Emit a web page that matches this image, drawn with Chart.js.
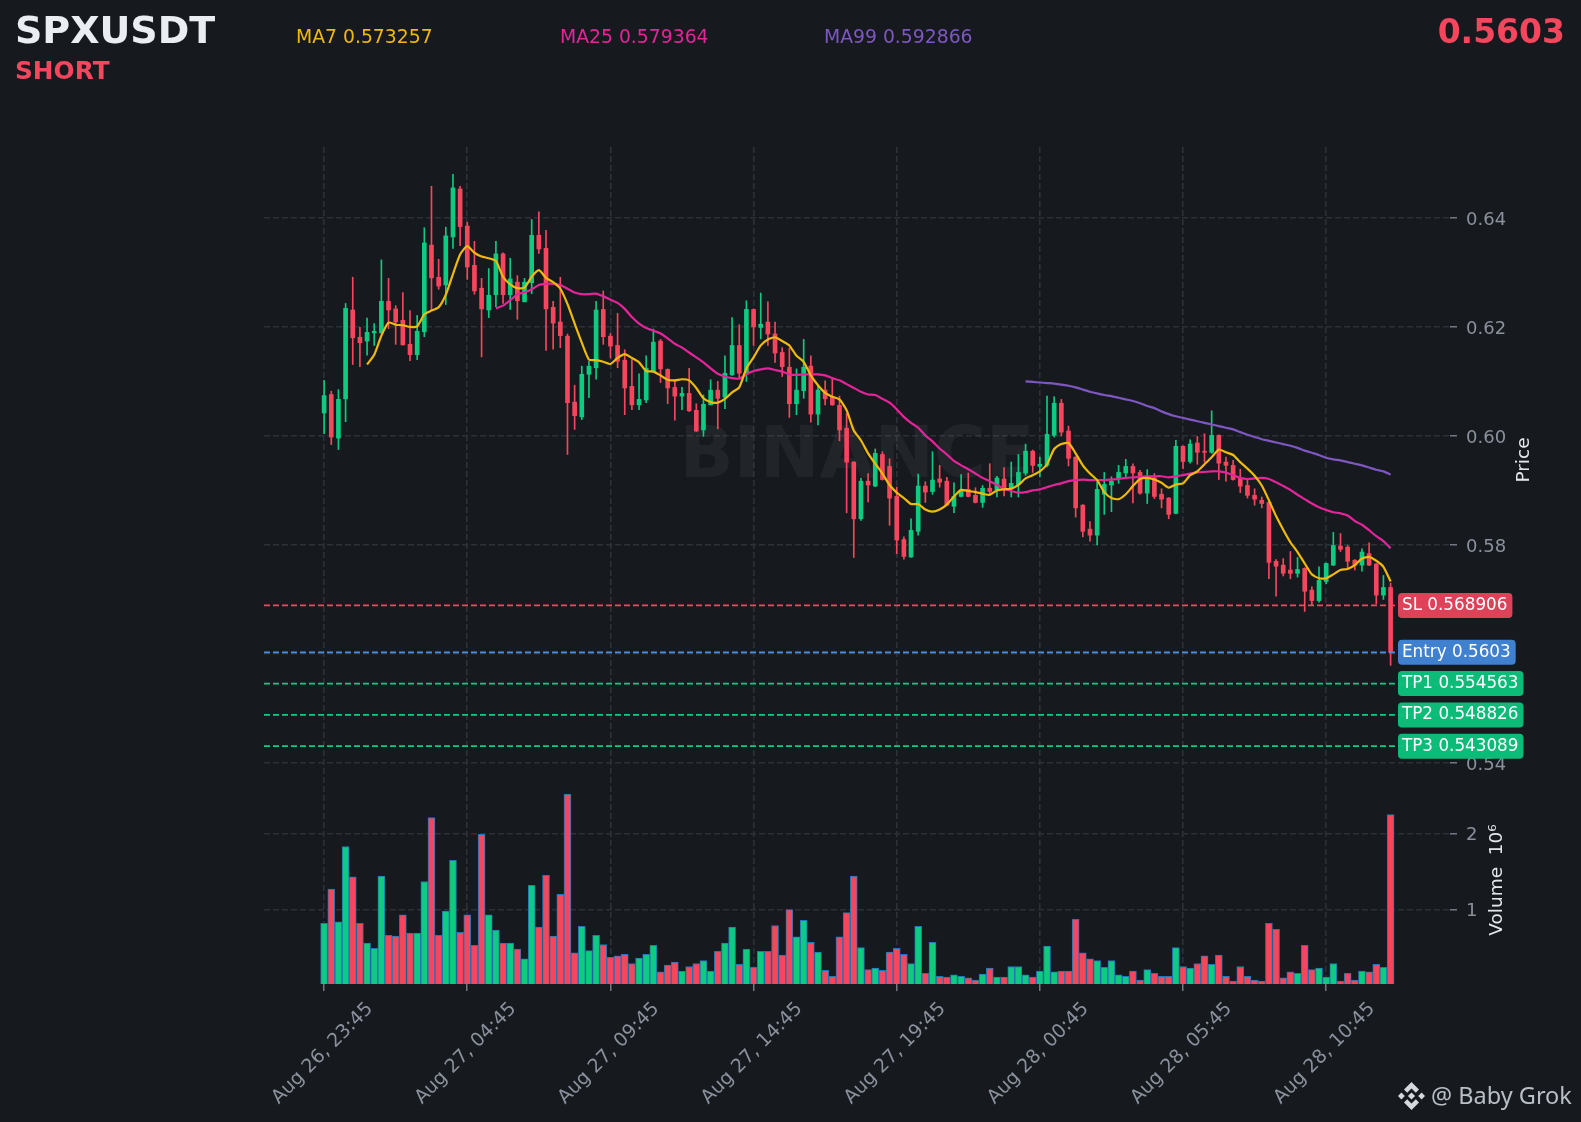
<!DOCTYPE html>
<html>
<head>
<meta charset="utf-8">
<title>SPXUSDT</title>
<script src="https://cdn.jsdelivr.net/npm/chart.js@4"></script>
<style>
  html, body { margin: 0; padding: 0; background: #161a1f; }
  #wrap { position: relative; width: 1581px; height: 1122px; overflow: hidden; font-family: "DejaVu Sans", sans-serif; }
  canvas { position: absolute; left: 0; top: 0; }
  .txt { position: absolute; white-space: nowrap; line-height: 1; }
  #logo { position: absolute; left: 1398px; top: 1082px; }
</style>
</head>
<body>
<div id="wrap">
  <canvas id="grafico" width="1581" height="1122"></canvas>
  <div class="txt" style="left:15px;top:11px;font-size:38px;font-weight:bold;color:#eaedf1">SPXUSDT</div>
  <div class="txt" style="left:15px;top:59px;font-size:24.8px;font-weight:bold;color:#f6465d">SHORT</div>
  <div class="txt" style="left:296px;top:28px;font-size:18.8px;color:#f0b90b">MA7 0.573257</div>
  <div class="txt" style="left:560px;top:28px;font-size:18.8px;color:#e6249a">MA25 0.579364</div>
  <div class="txt" style="left:824px;top:28px;font-size:18.8px;color:#7e57c2">MA99 0.592866</div>
  <div class="txt" style="right:16px;top:15px;font-size:33px;font-weight:bold;color:#f6465d">0.5603</div>
  <svg id="logo" width="27" height="28" viewBox="0 0 27 28">
    <g fill="#d5d8dd">
      <path d="M13.5 0 L21 7.5 L17.8 10.7 L13.5 6.4 L9.2 10.7 L6 7.5 Z"/>
      <path d="M13.5 28 L21 20.5 L17.8 17.3 L13.5 21.6 L9.2 17.3 L6 20.5 Z"/>
      <path d="M3.4 10.6 L6.8 14 L3.4 17.4 L0 14 Z"/>
      <path d="M23.6 10.6 L27 14 L23.6 17.4 L20.2 14 Z"/>
      <path d="M13.5 10.4 L17.1 14 L13.5 17.6 L9.9 14 Z"/>
    </g>
  </svg>
  <div class="txt" style="left:1431px;top:1084px;font-family:'Noto Sans',sans-serif;font-size:23.5px;color:#b9bec7">@ Baby Grok</div>
</div>
<script>
// Candles, 15 minutes each
const opens = [.6042,.6076,.5996,.6068,.6231,.6181,.6174,.6189,.6189,.6247,.6233,.6212,.6168,.6149,.6191,.6350,.6291,.6277,.6365,.6453,
  .6385,.6313,.6271,.6231,.6259,.6334,.6259,.6282,.6246,.6281,.6368,.6344,.6236,.6209,.6183,.6062,.6035,.6113,.6125,.6232,
  .6183,.6166,.6139,.6091,.6057,.6066,.6118,.6174,.6122,.6089,.6073,.6078,.6047,.6011,.6057,.6084,.6071,.6112,.6166,.6115,
  .6232,.6199,.6209,.6187,.6153,.6126,.6059,.6083,.6128,.6040,.6084,.6071,.6056,.6014,.5952,.5848,.5917,.5908,.5966,.5944,
  .5889,.5810,.5778,.5825,.5908,.5898,.5921,.5917,.5871,.5889,.5902,.5891,.5878,.5904,.5900,.5921,.5903,.5911,.5932,.5972,
  .5944,.5946,.6001,.6060,.6009,.5961,.5873,.5829,.5818,.5893,.5910,.5922,.5932,.5944,.5933,.5895,.5923,.5893,.5886,.5858,
  .5981,.5953,.5987,.5972,.5970,.6001,.5952,.5946,.5922,.5909,.5891,.5882,.5878,.5770,.5763,.5754,.5748,.5757,.5717,.5698,
  .5733,.5763,.5798,.5796,.5772,.5763,.5784,.5765,.5708,.5722];
const highs = [.6102,.6082,.6085,.6243,.6291,.6199,.6216,.6206,.6323,.6289,.6239,.6263,.6230,.6221,.6382,.6458,.6324,.6383,.6480,.6458,
  .6392,.6357,.6289,.6307,.6357,.6336,.6326,.6294,.6289,.6397,.6411,.6377,.6247,.6291,.6187,.6093,.6128,.6137,.6247,.6266,
  .6188,.6225,.6158,.6140,.6114,.6147,.6196,.6177,.6123,.6100,.6089,.6124,.6059,.6075,.6103,.6100,.6147,.6217,.6204,.6248,
  .6233,.6262,.6246,.6209,.6162,.6161,.6123,.6177,.6147,.6092,.6101,.6105,.6073,.6041,.5953,.5922,.5931,.5976,.5971,.5958,
  .5906,.5815,.5848,.5930,.5916,.5971,.5946,.5924,.5914,.5929,.5932,.5905,.5909,.5949,.5926,.5942,.5952,.5966,.5985,.5974,
  .5961,.6073,.6072,.6067,.6018,.5962,.5874,.5843,.5916,.5933,.5925,.5946,.5957,.5949,.5937,.5938,.5931,.5903,.5887,.5992,
  .5982,.5993,.5999,.6004,.6046,.6002,.5961,.5955,.5939,.5920,.5903,.5888,.5879,.5773,.5775,.5788,.5777,.5758,.5723,.5760,
  .5767,.5823,.5821,.5799,.5773,.5793,.5804,.5766,.5744,.5730];
const lows = [.6004,.5984,.5975,.6026,.6131,.6127,.6148,.6166,.6188,.6197,.6168,.6167,.6138,.6140,.6182,.6231,.6269,.6241,.6344,.6349,
  .6287,.6260,.6145,.6217,.6237,.6243,.6232,.6214,.6246,.6261,.6335,.6157,.6159,.6162,.5966,.6012,.6030,.6070,.6104,.6168,
  .6143,.6125,.6039,.6048,.6048,.6061,.6117,.6098,.6059,.6029,.6048,.6045,.6008,.5999,.6057,.6013,.6050,.6111,.6105,.6100,
  .6166,.6178,.6166,.6135,.6109,.6034,.6039,.6069,.6025,.6020,.6057,.6056,.5991,.5859,.5777,.5845,.5879,.5907,.5919,.5836,
  .5784,.5774,.5777,.5818,.5878,.5893,.5906,.5872,.5859,.5888,.5888,.5877,.5869,.5891,.5888,.5890,.5888,.5888,.5928,.5933,
  .5925,.5943,.5998,.6000,.5945,.5851,.5815,.5807,.5800,.5856,.5861,.5913,.5924,.5877,.5893,.5876,.5885,.5868,.5848,.5857,
  .5940,.5950,.5948,.5952,.5968,.5920,.5917,.5919,.5896,.5886,.5873,.5868,.5738,.5706,.5743,.5738,.5741,.5678,.5690,.5695,
  .5729,.5762,.5788,.5758,.5754,.5752,.5762,.5692,.5700,.5579];
const closes = [.6074,.5998,.6067,.6234,.6180,.6171,.6190,.6192,.6247,.6231,.6209,.6167,.6149,.6192,.6354,.6290,.6275,.6367,.6455,.6384,
  .6310,.6266,.6233,.6258,.6334,.6259,.6288,.6248,.6282,.6368,.6343,.6233,.6207,.6184,.6061,.6037,.6113,.6128,.6231,.6182,
  .6165,.6137,.6088,.6057,.6067,.6124,.6172,.6123,.6088,.6073,.6078,.6046,.6009,.6058,.6084,.6069,.6115,.6166,.6115,.6232,
  .6200,.6205,.6187,.6152,.6127,.6059,.6084,.6126,.6040,.6084,.6068,.6057,.6011,.5952,.5848,.5917,.5910,.5968,.5920,.5886,
  .5809,.5779,.5827,.5908,.5897,.5919,.5915,.5873,.5889,.5899,.5889,.5878,.5904,.5898,.5923,.5904,.5913,.5933,.5972,.5946,
  .5948,.6003,.6060,.6007,.5959,.5868,.5825,.5818,.5902,.5911,.5917,.5933,.5944,.5932,.5895,.5923,.5889,.5884,.5856,.5981,
  .5953,.5985,.5970,.5970,.6001,.5950,.5946,.5920,.5908,.5891,.5884,.5876,.5768,.5761,.5748,.5748,.5755,.5715,.5698,.5735,
  .5766,.5799,.5792,.5770,.5763,.5787,.5763,.5708,.5722,.5603];
const volumes = [.82,1.27,.84,1.83,1.43,.82,.56,.49,1.44,.66,.65,.93,.69,.69,1.37,2.21,.66,.98,1.65,.70,
  .93,.53,1.99,.93,.73,.56,.56,.48,.35,1.32,.77,1.45,.65,1.20,2.52,.43,.78,.46,.66,.54,
  .37,.39,.41,.29,.36,.41,.53,.18,.27,.31,.19,.25,.29,.33,.19,.45,.56,.77,.28,.48,
  .24,.45,.45,.79,.40,1.00,.64,.86,.57,.44,.20,.12,.64,.96,1.44,.50,.21,.23,.20,.44,
  .49,.41,.29,.78,.16,.57,.12,.11,.14,.12,.10,.07,.15,.23,.11,.11,.25,.25,.14,.11,
  .19,.52,.18,.19,.19,.87,.43,.35,.33,.24,.33,.14,.12,.19,.07,.21,.16,.12,.12,.50,
  .25,.23,.29,.39,.28,.40,.12,.06,.25,.12,.07,.06,.82,.74,.10,.18,.16,.53,.21,.23,
  .11,.29,.06,.16,.07,.19,.18,.28,.24,2.25];

// Moving averages, first value belongs to candle 6, 24 and 98
const ma7 = [.6131,.6149,.6184,.6208,.6204,.6203,.6200,.6201,.6223,.6230,.6236,.6259,.6297,.6333,.6348,.6336,.6329,.6326,.6321,.6292,
  .6278,.6271,.6272,.6292,.6304,.6290,.6282,.6270,.6242,.6206,.6171,.6140,.6139,.6136,.6132,.6143,.6150,.6143,.6135,.6119,
  .6118,.6111,.6103,.6102,.6104,.6102,.6088,.6069,.6062,.6061,.6068,.6080,.6089,.6124,.6144,.6166,.6177,.6181,.6174,.6166,
  .6147,.6136,.6111,.6093,.6079,.6072,.6067,.6047,.6010,.5992,.5968,.5949,.5931,.5910,.5896,.5886,.5875,.5875,.5865,.5861,
  .5865,.5874,.5889,.5901,.5899,.5897,.5894,.5892,.5900,.5902,.5903,.5910,.5922,.5928,.5935,.5948,.5976,.5985,.5987,.5968,
  .5946,.5931,.5919,.5897,.5886,.5884,.5893,.5908,.5921,.5923,.5920,.5914,.5905,.5911,.5913,.5928,.5935,.5948,.5961,.5975,
  .5970,.5965,.5952,.5940,.5927,.5909,.5882,.5853,.5828,.5805,.5787,.5766,.5746,.5739,.5739,.5746,.5754,.5756,.5763,.5775,
  .5778,.5771,.5760,.5733];
const ma25 = [.6234,.6239,.6249,.6260,.6263,.6269,.6277,.6279,.6279,.6277,.6270,.6263,.6260,.6260,.6261,.6256,.6250,.6244,.6233,.6218,
  .6206,.6198,.6193,.6188,.6179,.6169,.6162,.6153,.6144,.6135,.6124,.6114,.6109,.6106,.6105,.6113,.6119,.6122,.6124,.6121,
  .6118,.6113,.6112,.6113,.6113,.6113,.6111,.6106,.6102,.6095,.6088,.6081,.6076,.6075,.6068,.6061,.6049,.6035,.6024,.6015,
  .6001,.5990,.5977,.5966,.5954,.5946,.5939,.5931,.5923,.5917,.5910,.5903,.5899,.5896,.5897,.5900,.5902,.5906,.5910,.5913,
  .5917,.5919,.5920,.5919,.5919,.5919,.5920,.5921,.5923,.5924,.5925,.5926,.5926,.5926,.5924,.5926,.5928,.5931,.5933,.5934,
  .5935,.5935,.5933,.5928,.5923,.5921,.5922,.5923,.5921,.5915,.5908,.5901,.5892,.5884,.5876,.5869,.5864,.5860,.5858,.5854,
  .5844,.5837,.5827,.5816,.5807,.5794];
const ma99 = [.6100,.6099,.6098,.6097,.6096,.6094,.6092,.6089,.6085,.6081,.6078,.6075,.6073,.6070,.6067,.6064,.6060,.6055,.6051,.6045,
  .6040,.6036,.6033,.6030,.6027,.6024,.6021,.6018,.6015,.6012,.6007,.6002,.5998,.5994,.5991,.5988,.5985,.5982,.5978,.5973,
  .5969,.5965,.5960,.5957,.5955,.5952,.5949,.5946,.5942,.5938,.5935,.5929];

// Axis ticks
const tickLabels = ['Aug 26, 23:45','Aug 27, 04:45','Aug 27, 09:45','Aug 27, 14:45','Aug 27, 19:45','Aug 28, 00:45','Aug 28, 05:45','Aug 28, 10:45'];
const tickStep = 20;
const priceTicks = [.54,.56,.58,.60,.62,.64];
const volumeTicks = [1, 2];

// Trade levels
const levelNames = ['SL','Entry','TP1','TP2','TP3'];
const levelValues = [0.568906,0.5603,0.554563,0.548826,0.543089];
const levelTexts = ['0.568906','0.5603','0.554563','0.548826','0.543089'];
const levelLines = ['#f6465d','#4a8fe0','#0ecb81','#0ecb81','#0ecb81'];
const levelTags = ['rgba(230,68,92,.96)','rgba(66,132,214,.96)','rgba(14,194,124,.96)','rgba(14,194,124,.96)','rgba(14,194,124,.96)'];

const verde = '#0ecb81';
const vermelho = '#f6465d';
const xMin = -8.4, xMax = 157.3;
const corGrade = '#2c3038';
const corTick = '#8b919c';

const idx = opens.map((_, i) => i);
const corCandle = idx.map(i => closes[i] >= opens[i] ? verde : vermelho);

const overlay = {
  id: 'overlay',
  beforeDatasetsDraw(chart) {
    const { ctx } = chart;
    ctx.save();
    ctx.font = 'bold 71px "DejaVu Sans"';
    ctx.fillStyle = 'rgba(255,255,255,.05)';
    ctx.textAlign = 'center';
    ctx.textBaseline = 'middle';
    ctx.fillText('BINANCE', 857, 459);
    ctx.restore();
  },
  afterDatasetsDraw(chart) {
    const { ctx, scales } = chart;
    ctx.save();
    // price tags on the right
    ctx.font = '16.8px "DejaVu Sans"';
    ctx.textBaseline = 'middle';
    levelNames.forEach((nome, i) => {
      const y = scales.y.getPixelForValue(levelValues[i]);
      const texto = `${nome} ${levelTexts[i]}`;
      const w = ctx.measureText(texto).width + 9;
      ctx.fillStyle = levelTags[i];
      ctx.beginPath();
      ctx.roundRect(1398, y - 12.5, w, 25, 4);
      ctx.fill();
      ctx.fillStyle = '#ffffff';
      ctx.fillText(texto, 1402, y);
    });
    // axis titles read bottom to top
    ctx.font = '18.5px "DejaVu Sans"';
    ctx.fillStyle = '#e4e7eb';
    ctx.textAlign = 'center';
    [['Price', 1524, 460], ['Volume  10⁶', 1497, 880]].forEach(([t, x, y]) => {
      ctx.save();
      ctx.translate(x, y);
      ctx.rotate(-Math.PI / 2);
      ctx.fillText(t, 0, 0);
      ctx.restore();
    });
    ctx.restore();
  }
};

const ticksComuns = { color: corTick, font: { family: 'DejaVu Sans', size: 18 }, padding: 9, labelOffset: 2 };
const gradeComum = { color: corGrade, lineWidth: 1.6, offset: false, tickColor: corTick, tickLength: 7, tickWidth: 1.2, tickBorderDash: [] };
const borda = { display: false, dash: [6, 3] };

new Chart(document.getElementById('grafico'), {
  data: {
    datasets: [
      { type: 'line', label: 'MA7', yAxisID: 'y', order: 1, data: ma7.map((v, i) => ({ x: i + 6, y: v })),
        borderColor: '#f0b90b', borderWidth: 2.2, pointRadius: 0, tension: 0.2 },
      { type: 'line', label: 'MA25', yAxisID: 'y', order: 2, data: ma25.map((v, i) => ({ x: i + 24, y: v })),
        borderColor: '#e6249a', borderWidth: 2.2, pointRadius: 0, tension: 0.2 },
      { type: 'line', label: 'MA99', yAxisID: 'y', order: 3, data: ma99.map((v, i) => ({ x: i + 98, y: v })),
        borderColor: '#7e57c2', borderWidth: 2.2, pointRadius: 0, tension: 0.2 },
      ...levelValues.map((v, i) => ({
        type: 'line', label: levelNames[i], yAxisID: 'y', order: 4,
        data: [{ x: xMin, y: v }, { x: xMax, y: v }],
        borderColor: levelLines[i], borderWidth: 1.6, borderDash: [6, 3], pointRadius: 0
      })),
      { type: 'bar', label: 'Corpo', yAxisID: 'y', order: 5, grouped: false, barThickness: 4,
        data: idx.map(i => ({ x: i, y: [Math.min(opens[i], closes[i]), Math.max(opens[i], closes[i])] })),
        backgroundColor: corCandle },
      { type: 'bar', label: 'Pavio', yAxisID: 'y', order: 6, grouped: false, barThickness: 1,
        data: idx.map(i => ({ x: i, y: [lows[i], highs[i]] })),
        backgroundColor: corCandle },
      { type: 'bar', label: 'Volume', yAxisID: 'yVol', order: 7, grouped: false, barThickness: 7,
        data: idx.map(i => ({ x: i, y: volumes[i] })),
        backgroundColor: corCandle, borderColor: '#1f77b4', borderWidth: 1, borderSkipped: false }
    ]
  },
  options: {
    responsive: false,
    animation: false,
    devicePixelRatio: 1,
    layout: { padding: { left: 264, top: 147, right: 0, bottom: 0 } },
    plugins: { legend: { display: false }, tooltip: { enabled: false } },
    scales: {
      x: {
        type: 'linear', min: xMin, max: xMax, offset: false,
        afterBuildTicks: s => { s.ticks = tickLabels.map((_, i) => ({ value: i * tickStep })); },
        afterFit: s => { s.height = 138; },
        grid: gradeComum,
        border: borda,
        ticks: { ...ticksComuns, font: { family: 'DejaVu Sans', size: 19 }, padding: 7, autoSkip: false, maxRotation: 45, minRotation: 45,
          labelOffset: 46, callback: v => tickLabels[v / tickStep] }
      },
      y: {
        type: 'linear', position: 'right', stack: 'painel', stackWeight: 616, min: 0.54, max: 0.653,
        afterFit: s => { s.width = 131; },
        grid: gradeComum, border: borda,
        ticks: { ...ticksComuns, callback: v => v.toFixed(2) },
        afterBuildTicks: s => { s.ticks = priceTicks.map(v => ({ value: v })); }
      },
      yVol: {
        type: 'linear', position: 'right', stack: 'painel', stackWeight: 221, min: 0.02, max: 2.93,
        afterFit: s => { s.width = 131; },
        grid: gradeComum, border: borda,
        ticks: { ...ticksComuns, callback: v => String(v) },
        afterBuildTicks: s => { s.ticks = volumeTicks.map(v => ({ value: v })); }
      }
    }
  },
  plugins: [overlay]
});
</script>
</body>
</html>
